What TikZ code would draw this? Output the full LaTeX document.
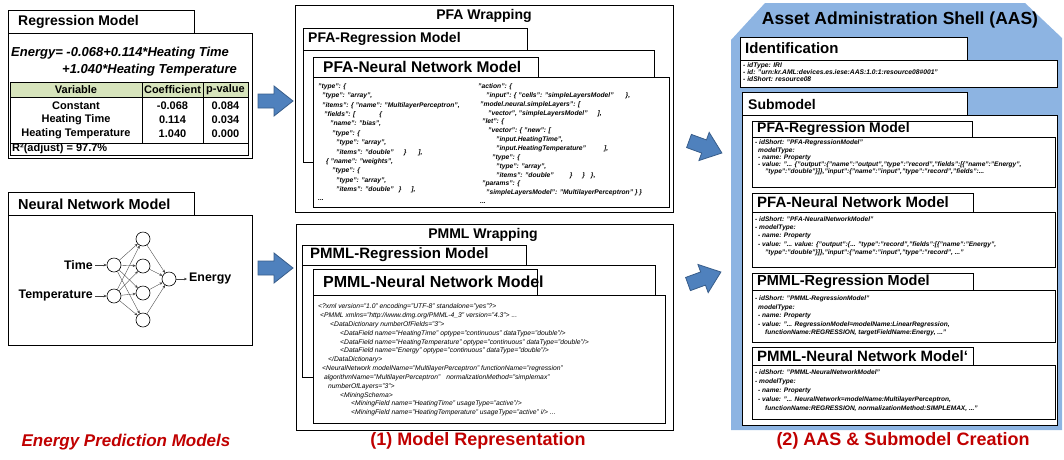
\documentclass[tikz,border=0pt]{standalone}
\usepackage{fontspec}
\setmainfont{Liberation Sans}
\usetikzlibrary{arrows.meta}

\definecolor{shellblue}{HTML}{8DB4E2}
\definecolor{arrowfill}{HTML}{4F81BD}
\definecolor{arrowline}{HTML}{385D8A}
\definecolor{hdrgreen}{HTML}{D7E4BC}
\definecolor{capred}{HTML}{C00000}

\newcommand\fs[1]{\fontsize{#1}{#1}\selectfont}
\newcommand\cf[2]{\fontsize{#1}{#2}\selectfont\itshape}
\newcommand\ind[1]{\hspace*{#1pt}}
% block arrow: tail centre (x,y), rotation angle
\newcommand\blockarrow[3]{%
  \begin{scope}[shift={(#1,#2)}, rotate=#3]
    \filldraw[fill=arrowfill, draw=arrowline, line width=0.8pt]
      (0,-7) -- (16,-7) -- (16,-15) -- (35,0) -- (16,15) -- (16,7) -- (0,7) -- cycle;
  \end{scope}}

\begin{document}
\begin{tikzpicture}[x=1pt, y=-1pt,
  box/.style={draw=black, fill=white, line width=0.9pt},
  ttl/.style={anchor=west, inner sep=0pt, font=\bfseries\fs{#1}},
  ttl/.default=14,
  code/.style={anchor=north west, inner sep=0pt, align=left},
  neuron/.style={circle, draw, line width=0.6pt, minimum size=14pt, inner sep=0pt},
  syn/.style={-{Stealth[length=3pt,width=2.6pt]}, line width=0.35pt, draw=black!75},
  cell/.style={inner sep=0pt, font=\bfseries\fs{11}},
  captxt/.style={text=capred, font=\bfseries\fs{18}}]

\useasboundingbox (0,0) rectangle (1064,459);

% ---------------- Energy prediction models ----------------
\draw[box] (8,33) rectangle (252,158);
\draw[box] (8,10) rectangle (194,33);
\node[ttl=14] (regT) at (18,22) {Regression Model};
\node[anchor=west, inner sep=0pt, font=\bfseries\itshape\fs{13}] (eq1) at (11,53) {Energy= -0.068+0.114*Heating Time};
\node[anchor=west, inner sep=0pt, font=\bfseries\itshape\fs{13}] (eq2) at (62,70) {+1.040*Heating Temperature};

\fill[hdrgreen] (10,82) rectangle (248,97);
\draw[line width=0.6pt] (10,82) rectangle (248,155);
\draw[line width=0.6pt] (10,97) -- (248,97) (10,143) -- (248,143)
  (142,82) -- (142,143) (203,82) -- (203,143);
\node[cell] (hv) at (76,90) {Variable};
\node[cell] (hc) at (172.5,90) {Coefficient};
\node[cell] (hp) at (225.5,90) {p-value};
\node[cell] (r1a) at (76,105.5) {Constant};
\node[cell] (r1b) at (172.5,105.5) {-0.068};
\node[cell] (r1c) at (225.5,105.5) {0.084};
\node[cell] (r2a) at (76,119.5) {Heating Time};
\node[cell] (r2b) at (172.5,119.5) {0.114};
\node[cell] (r2c) at (225.5,119.5) {0.034};
\node[cell] (r3a) at (76,133.5) {Heating Temperature};
\node[cell] (r3b) at (172.5,133.5) {1.040};
\node[cell] (r3c) at (225.5,133.5) {0.000};
\node[cell, anchor=west] (r4) at (12,148.5) {R²(adjust) = 97.7\%};

\draw[box] (8,215) rectangle (252,345);
\draw[box] (8,192) rectangle (194,215);
\node[ttl=14.5] (nnT) at (18,204) {Neural Network Model};

\node[neuron] (i1) at (114,265) {};
\node[neuron] (i2) at (114,296) {};
\node[neuron] (h1) at (143,239) {};
\node[neuron] (h2) at (143,266) {};
\node[neuron] (h3) at (143,293) {};
\node[neuron] (h4) at (143,320) {};
\node[neuron] (o) at (169,279) {};
\foreach \a in {i1,i2}
  \foreach \b in {h1,h2,h3,h4}
    \draw[syn] (\a) -- (\b);
\foreach \b in {h1,h2,h3,h4}
  \draw[syn] (\b) -- (o);
\node[anchor=east, inner sep=2pt, font=\bfseries\fs{12.4}] (lt) at (95,265) {Time};
\node[anchor=east, inner sep=2pt, font=\bfseries\fs{12.4}] (lT) at (95,296) {Temperature};
\node[anchor=west, inner sep=2pt, font=\bfseries\fs{12.4}] (lE) at (187,279) {Energy};
\draw[syn] (lt) -- (i1);
\draw[syn] (lT) -- (i2);
\draw[syn] (o) -- (lE);

\node[anchor=center, inner sep=0pt, text=capred, font=\bfseries\itshape\fs{17}] (c0) at (126,442) {Energy Prediction Models};

% ---------------- PFA wrapping ----------------
\draw[box] (295,5) rectangle (673,212);
\node[inner sep=0pt, font=\bfseries\fs{14}] (pfaW) at (484,16) {PFA Wrapping};
\draw[box] (303,50) rectangle (654,162);
\draw[box] (303,28) rectangle (527,50);
\node[ttl=14] (pfaR) at (308,39) {PFA-Regression Model};
\draw[box] (313,57) rectangle (538,77);
\draw[box] (313,77) rectangle (669,207);
\node[ttl=15.5] (pfaN) at (323,67) {PFA-Neural Network Model};

\node[code, font=\bfseries\cf{6.7}{9.35}] (pfaL) at (318,83.5) {%
"type": \{\\
\ind{4}"type": "array",\\
\ind{4}"items": \{ "name": "MultilayerPerceptron",\\
\ind{6}"fields": [\ind{24}\{\\
\ind{12}"name": "bias",\\
\ind{14}"type": \{\\
\ind{18}"type": "array",\\
\ind{18}"items": "double"\ind{10}\}\ind{12}],\\
\ind{8}\{ "name": "weights",\\
\ind{14}"type": \{\\
\ind{18}"type": "array",\\
\ind{18}"items": "double"\ind{5}\}\ind{10}],\\
\ind{0}...};

\node[code, font=\bfseries\cf{6.7}{8.85}] (pfaRt) at (478,83.5) {%
"action": \{\\
\ind{8}"input": \{ "cells": "simpleLayersModel"\ind{12}\},\\
\ind{2}"model.neural.simpleLayers": [\\
\ind{10}"vector", "simpleLayersModel"\ind{10}],\\
\ind{4}"let": \{\\
\ind{10}"vector": \{ "new": [\\
\ind{18}"input.HeatingTime",\\
\ind{18}"input.HeatingTemperature"\ind{18}],\\
\ind{14}"type": \{\\
\ind{18}"type": "array",\\
\ind{18}"items": "double"\ind{16}\}\ind{10}\}\ind{6}\},\\
\ind{4}"params": \{\\
\ind{8}"simpleLayersModel": "MultilayerPerceptron" \} \}\\
\ind{2}...};

% ---------------- PMML wrapping ----------------
\draw[box] (296,224) rectangle (673,430);
\node[inner sep=0pt, font=\bfseries\fs{14}] (pmmlW) at (483,235) {PMML Wrapping};
\draw[box] (302,265) rectangle (655,377);
\draw[box] (302,245) rectangle (526,265);
\node[ttl=15] (pmmlR) at (310,255) {PMML-Regression Model};
\draw[box] (313,269) rectangle (537,295);
\draw[box] (313,295) rectangle (665,423);
\node[ttl=16] (pmmlN) at (323,282) {PMML-Neural Network Model};

\node[code, font=\cf{6.75}{8.85}] (pmmlC) at (318,303.5) {%
<?xml version="1.0" encoding="UTF-8" standalone="yes"?>\\
\ind{2}<PMML xmlns="http://www.dmg.org/PMML-4\_3" version="4.3"> ...\\
\ind{12}<DataDictionary numberOfFields="3">\\
\ind{22}<DataField name="HeatingTime" optype="continuous" dataType="double"/>\\
\ind{22}<DataField name="HeatingTemperature" optype="continuous" dataType="double"/>\\
\ind{22}<DataField name="Energy" optype="continuous" dataType="double"/>\\
\ind{10}</DataDictionary>\\
\ind{4}<NeuralNetwork modelName="MultilayerPerceptron" functionName="regression"\\
\ind{6}algorithmName="MultilayerPerceptron"\ind{6}normalizationMethod="simplemax"\\
\ind{10}numberOfLayers="3">\\
\ind{22}<MiningSchema>\\
\ind{33}<MiningField name="HeatingTime" usageType="active"/>\\
\ind{33}<MiningField name="HeatingTemperature" usageType="active" i/> ...};

\node[captxt] (c1) at (478,441) {(1) Model Representation};

% ---------------- block arrows ----------------
\blockarrow{258}{101}{0}
\blockarrow{258}{268}{0}
\blockarrow{689}{141}{-20}
\blockarrow{688}{284}{20}

% ---------------- Asset Administration Shell ----------------
\fill[shellblue] (731,40) -- (765,3) -- (1025,3) -- (1062,38) -- (1062,430) -- (731,430) -- cycle;
\node[inner sep=0pt, font=\bfseries\fs{17.5}] (aasT) at (900,20) {Asset Administration Shell (AAS)};

\draw[box] (740,60) rectangle (1057,87);
\draw[box] (740,37) rectangle (967,60);
\node[ttl=15] (idT) at (745,48.5) {Identification};
\node[code, font=\bfseries\cf{6.7}{7}] (idC) at (743,62) {%
- idType: IRI\\
- id: "urn:kr.AML:devices.es.iese:AAS:1.0:1:resource08\#001"\\
- idShort: resource08};

\draw[box] (742,115) rectangle (1057,425);
\draw[box] (742,92) rectangle (967,115);
\node[ttl=14] (smT) at (748,104) {Submodel};

\draw[box] (752,137) rectangle (1055,187);
\draw[box] (752,121) rectangle (972,137);
\node[ttl=14] (s1T) at (757,129) {PFA-Regression Model};
\node[code, font=\bfseries\cf{6.55}{7.2}] (s1C) at (755,140) {%
- idShort: "PFA-RegressionModel"\\
\ind{3}modelType:\\
\ind{3}- name: Property\\
\ind{3}- value: "... \{"output":\{"name":"output","type":"record","fields":[\{"name":"Energy",\\
\ind{10}"type":"double"\}]\},"input":\{"name":"input","type":"record","fields":...};

\draw[box] (752,212) rectangle (1055,267);
\draw[box] (752,193) rectangle (973,212);
\node[ttl=15] (s2T) at (757,202.5) {PFA-Neural Network Model};
\node[code, font=\bfseries\cf{6.55}{8.2}] (s2C) at (755,216.5) {%
- idShort: "PFA-NeuralNetworkModel"\\
- modelType:\\
\ind{3}- name: Property\\
\ind{3}- value: "... value: \{"output":\{... "type":"record","fields":[\{"name":"Energy",\\
\ind{10}"type":"double"\}]\},"input":\{"name":"input","type":"record", ..."};

\draw[box] (752,290) rectangle (1055,342);
\draw[box] (752,273) rectangle (973,290);
\node[ttl=14.5] (s3T) at (757,281.5) {PMML-Regression Model};
\node[code, font=\bfseries\cf{6.55}{8.6}] (s3C) at (755,295.5) {%
- idShort: "PMML-RegressionModel"\\
\ind{3}modelType:\\
\ind{3}- name: Property\\
\ind{3}- value: "... RegressionModel=modelName:LinearRegression,\\
\ind{10}functionName:REGRESSION, targetFieldName:Energy, ..."};

\draw[box] (752,365) rectangle (1055,419);
\draw[box] (752,347) rectangle (973,365);
\node[ttl=15] (s4T) at (757,356) {PMML-Neural Network Model`};
\node[code, font=\bfseries\cf{6.55}{9}] (s4C) at (755,369.5) {%
- idShort: "PMML-NeuralNetworkModel"\\
- modelType:\\
\ind{3}- name: Property\\
\ind{3}- value: "... NeuralNetwork=modelName:MultilayerPerceptron,\\
\ind{10}functionName:REGRESSION, normalizationMethod:SIMPLEMAX, ..."};

\node[captxt] (c2) at (903,441) {(2) AAS \& Submodel Creation};
\end{tikzpicture}
\end{document}
